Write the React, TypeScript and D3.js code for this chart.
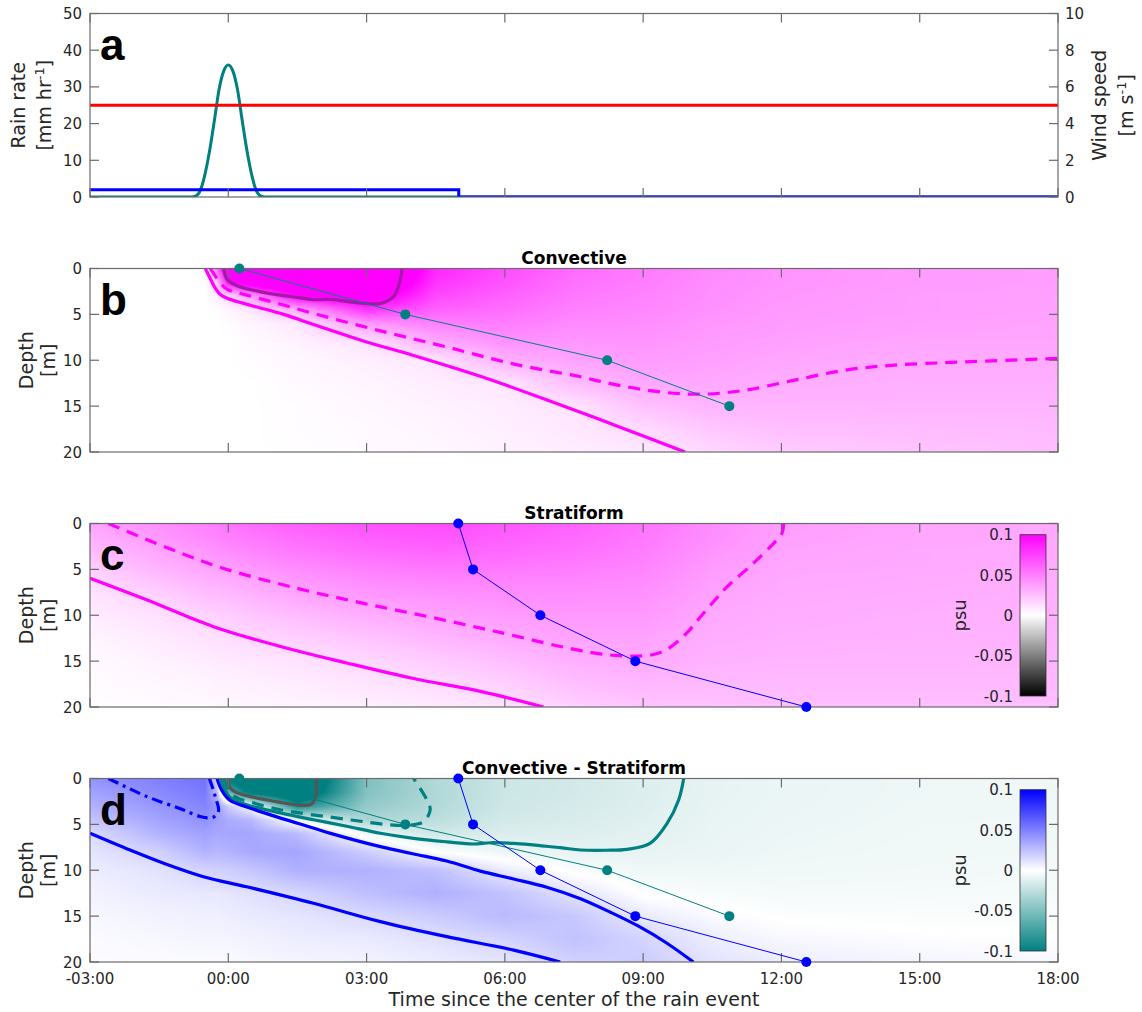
import React, { useMemo } from 'react';
import * as d3 from 'd3';

// ---------- layout ----------
const W = 1142;
const H = 1012;
const LEFT = 90;
const RIGHT = 1058;
const PANEL_TOPS = [13.5, 268.5, 523.5, 778.5];
const PANEL_H = 183.5;
const FONT = '"DejaVu Sans", sans-serif';
const AXIS = '#6b6b6b';
const TEXT = '#262626';
const TICK = 9;

// ---------- axes ----------
const timeDomain: [number, number] = [-3, 18];
const timeTicks = [-3, 0, 3, 6, 9, 12, 15, 18];
const timeTickLabels = ['-03:00', '00:00', '03:00', '06:00', '09:00', '12:00', '15:00', '18:00'];
const rainTicks = [0, 10, 20, 30, 40, 50];
const windTicks = [0, 2, 4, 6, 8, 10];
const depthTicks = [0, 5, 10, 15, 20];
const colorbarTicks = [0.1, 0.05, 0, -0.05, -0.1];
const colorbarTickLabels = ['0.1', '0.05', '0', '-0.05', '-0.1'];

// ---------- panel a: forcing ----------
const convRainTimes = [-3, -0.8, -0.7, -0.6, -0.5, -0.4, -0.3, -0.2, -0.1, 0, 0.1, 0.2, 0.3, 0.4, 0.5, 0.6, 0.7, 0.8, 18];
const convRain = [0, 0, 0.3, 2, 6.5, 13, 21, 29.3, 34.3, 36, 34.3, 29.3, 21, 13, 6.5, 2, 0.3, 0, 0];
const stratRainTimes = [-3, 5, 5, 18];
const stratRain = [2, 2, 0, 0];
const windTimes = [-3, 18];
const windSpeed = [5, 5];

// ---------- salinity anomaly grids (psu) ----------
const gridTimes = [-3, -1.5, -0.5, -0.25, 0, 0.5, 1.5, 3, 4.5, 6, 7.5, 9, 10.5, 12, 15, 18];
const gridDepths = [0, 1.5, 3, 4.5, 6, 8, 10, 12.5, 15, 17.5, 20];

// one profile (over gridDepths) per grid time
const convectiveProfiles = [
  [0, 0, 0, 0, 0, 0, 0, 0, 0, 0, 0],
  [0, 0, 0, 0, 0, 0, 0, 0, 0, 0, 0],
  [0, 0, 0, 0, 0, 0, 0, 0, 0, 0, 0],
  [0.055, 0.022, 0.006, 0.001, 0, 0, 0, 0, 0, 0, 0],
  [0.13, 0.095, 0.015, 0.004, 0.001, 0, 0, 0, 0, 0, 0],
  [0.15, 0.12, 0.04, 0.009, 0.004, 0.002, 0.001, 0, 0, 0, 0],
  [0.16, 0.14, 0.1, 0.033, 0.009, 0.005, 0.003, 0.002, 0.001, 0.001, 0.0005],
  [0.15, 0.14, 0.115, 0.08, 0.04, 0.011, 0.006, 0.004, 0.003, 0.002, 0.002],
  [0.085, 0.08, 0.072, 0.062, 0.05, 0.033, 0.01, 0.007, 0.005, 0.004, 0.003],
  [0.07, 0.067, 0.062, 0.057, 0.051, 0.043, 0.031, 0.0095, 0.007, 0.006, 0.005],
  [0.058, 0.056, 0.053, 0.05, 0.046, 0.041, 0.036, 0.026, 0.0105, 0.009, 0.007],
  [0.052, 0.051, 0.049, 0.047, 0.045, 0.042, 0.039, 0.034, 0.024, 0.014, 0.009],
  [0.046, 0.045, 0.044, 0.043, 0.041, 0.039, 0.037, 0.034, 0.029, 0.022, 0.015],
  [0.042, 0.042, 0.041, 0.04, 0.039, 0.037, 0.035, 0.032, 0.029, 0.025, 0.02],
  [0.039, 0.039, 0.038, 0.038, 0.037, 0.035, 0.033, 0.031, 0.029, 0.026, 0.023],
  [0.038, 0.038, 0.037, 0.037, 0.036, 0.035, 0.033, 0.031, 0.029, 0.027, 0.025],
];

const stratiformProfiles = [
  [0.036, 0.031, 0.026, 0.02, 0.015, 0.01, 0.007, 0.004, 0.002, 0.001, 0.0005],
  [0.044, 0.04, 0.035, 0.031, 0.025, 0.017, 0.012, 0.008, 0.005, 0.003, 0.0015],
  [0.05, 0.046, 0.041, 0.036, 0.031, 0.024, 0.017, 0.011, 0.007, 0.004, 0.002],
  [0.052, 0.048, 0.043, 0.038, 0.032, 0.025, 0.018, 0.012, 0.008, 0.005, 0.0025],
  [0.055, 0.05, 0.045, 0.039, 0.033, 0.026, 0.019, 0.013, 0.008, 0.005, 0.003],
  [0.058, 0.053, 0.048, 0.042, 0.036, 0.029, 0.022, 0.015, 0.009, 0.006, 0.003],
  [0.063, 0.058, 0.053, 0.047, 0.041, 0.034, 0.026, 0.018, 0.011, 0.007, 0.004],
  [0.068, 0.063, 0.058, 0.052, 0.046, 0.039, 0.032, 0.023, 0.015, 0.01, 0.006],
  [0.07, 0.066, 0.061, 0.055, 0.049, 0.042, 0.036, 0.028, 0.02, 0.013, 0.008],
  [0.066, 0.063, 0.059, 0.054, 0.049, 0.044, 0.039, 0.033, 0.025, 0.018, 0.011],
  [0.061, 0.059, 0.056, 0.052, 0.048, 0.044, 0.04, 0.036, 0.031, 0.025, 0.018],
  [0.055, 0.053, 0.051, 0.049, 0.046, 0.043, 0.04, 0.036, 0.033, 0.028, 0.023],
  [0.045, 0.044, 0.042, 0.04, 0.038, 0.036, 0.034, 0.032, 0.03, 0.027, 0.024],
  [0.038, 0.037, 0.036, 0.035, 0.034, 0.033, 0.032, 0.031, 0.029, 0.027, 0.025],
  [0.035, 0.035, 0.034, 0.034, 0.033, 0.032, 0.031, 0.03, 0.029, 0.027, 0.025],
  [0.034, 0.034, 0.033, 0.033, 0.032, 0.031, 0.031, 0.03, 0.029, 0.027, 0.025],
];

const differenceProfiles = [
  [0.042, 0.036, 0.03, 0.023, 0.014, 0.01, 0.007, 0.005, 0.003, 0.002, 0.001],
  [0.05, 0.046, 0.041, 0.036, 0.03, 0.018, 0.011, 0.008, 0.005, 0.003, 0.0015],
  [0.055, 0.052, 0.048, 0.043, 0.037, 0.03, 0.017, 0.009, 0.006, 0.004, 0.002],
  [0.014, 0.028, 0.04, 0.038, 0.034, 0.028, 0.018, 0.009, 0.006, 0.004, 0.002],
  [-0.11, -0.06, 0.02, 0.033, 0.035, 0.03, 0.019, 0.01, 0.007, 0.004, 0.002],
  [-0.13, -0.11, 0.0, 0.028, 0.035, 0.034, 0.022, 0.012, 0.008, 0.005, 0.003],
  [-0.14, -0.13, -0.09, -0.006, 0.027, 0.035, 0.031, 0.016, 0.01, 0.007, 0.004],
  [-0.05, -0.048, -0.042, -0.033, -0.006, 0.02, 0.031, 0.025, 0.0145, 0.008, 0.005],
  [-0.03, -0.031, -0.03, -0.026, -0.018, 0.0, 0.025, 0.031, 0.02, 0.012, 0.007],
  [-0.02, -0.02, -0.019, -0.017, -0.014, -0.007, 0.008, 0.024, 0.027, 0.017, 0.01],
  [-0.017, -0.017, -0.016, -0.015, -0.013, -0.0095, -0.002, 0.011, 0.022, 0.024, 0.018],
  [-0.0135, -0.0133, -0.013, -0.012, -0.011, -0.009, -0.006, -0.001, 0.008, 0.017, 0.02],
  [-0.0095, -0.0094, -0.009, -0.0088, -0.0085, -0.008, -0.006, -0.003, 0.002, 0.007, 0.011],
  [-0.008, -0.008, -0.0078, -0.0075, -0.007, -0.0065, -0.0055, -0.004, -0.0008, 0.003, 0.007],
  [-0.0065, -0.0065, -0.0063, -0.006, -0.0058, -0.0055, -0.005, -0.004, -0.002, 0.001, 0.004],
  [-0.006, -0.006, -0.006, -0.0058, -0.0055, -0.005, -0.0045, -0.0035, -0.002, 0.0003, 0.003],
];

// ---------- contours: [time (h), depth (m)] ----------
type Pt = [number, number];

const convContourLow: Pt[] = [[-0.5, 0], [-0.4, 1.0], [-0.3, 2.0], [-0.18, 2.8], [0, 3.3], [0.3, 3.75], [0.62, 4.2], [1.2, 5.0], [1.85, 6.1], [2.93, 7.9], [4.0, 9.45], [5.5, 11.8], [6.9, 14.3], [8.4, 17.1], [9.91, 20]];
const convContourMid: Pt[] = [[-0.39, 0], [-0.3, 0.7], [-0.21, 1.33], [-0.03, 2.24], [0.4, 2.9], [1.0, 3.7], [1.85, 4.9], [3.3, 6.8], [4.74, 8.55], [6.18, 10.4], [7.64, 11.8], [8.29, 12.55], [9.37, 13.45], [10.24, 13.7], [11.17, 13.3], [12.26, 12.2], [13.35, 11.1], [14.4, 10.55], [15.88, 10.2], [18, 9.8]];
const convContourHigh: Pt[] = [[-0.1, 0], [-0.03, 1.15], [0.19, 1.88], [0.77, 2.6], [1.56, 3.2], [1.85, 3.4], [2.2, 3.37], [2.93, 3.8], [3.3, 3.8], [3.58, 3.1], [3.73, 1.26], [3.77, 0]];

const stratContourLow: Pt[] = [[-3, 5.97], [-1.76, 8.34], [-0.32, 11.25], [1.13, 13.4], [2.57, 15.2], [4.02, 16.9], [5.47, 18.3], [6.84, 20]];
const stratContourMid: Pt[] = [[-2.6, 0], [-1.4, 2.5], [-0.1, 4.9], [1.49, 7.06], [2.93, 8.7], [4.38, 10.2], [5.83, 11.8], [7.2, 13.4], [7.92, 14.1], [8.4, 14.38], [8.87, 14.45], [9.2, 14.3], [9.47, 13.85], [9.73, 12.95], [10.0, 11.65], [10.24, 10.2], [10.53, 8.5], [10.82, 6.9], [11.4, 4.3], [11.83, 2.16], [12.01, 1.07], [12.05, 0]];

const diffPosLowUpper: Pt[] = [[-0.245, 0], [-0.14, 1.3], [0.04, 2.4], [0.4, 3.1], [1.0, 4.1], [1.56, 4.96], [2.2, 5.95], [3.3, 7.43], [4.0, 8.2], [4.74, 9.0], [5.47, 10.1], [6.19, 10.95], [6.91, 11.85], [7.64, 13.1], [8.3, 14.6], [8.9, 16.1], [9.5, 17.9], [10.09, 20]];
const diffPosLowLower: Pt[] = [[-3, 5.97], [-2.13, 7.8], [-1.4, 9.24], [-0.54, 10.7], [0.4, 11.8], [1.85, 13.6], [3.3, 15.6], [4.74, 17.24], [6.19, 18.7], [7.2, 20]];
const diffPosMid: Pt[] = [[-2.6, 0], [-1.76, 1.98], [-1.04, 3.3], [-0.61, 4.15], [-0.45, 4.3], [-0.3, 4.15], [-0.21, 3.5], [-0.27, 2.2], [-0.32, 1.33], [-0.41, 0]];
const diffNegLow: Pt[] = [[-0.17, 0], [-0.08, 1.2], [0.05, 2.1], [0.4, 2.85], [1.13, 3.75], [1.85, 4.5], [2.57, 5.2], [3.3, 5.97], [4.02, 6.52], [4.74, 6.9], [5.32, 7.14], [5.68, 7.0], [6.19, 7.07], [7.2, 7.54], [7.64, 7.79], [8.2, 7.82], [8.65, 7.72], [9.15, 7.07], [9.52, 4.88], [9.77, 2.34], [9.88, 0]];
const diffNegMid: Pt[] = [[-0.1, 0], [-0.02, 1.0], [0.15, 2.0], [0.5, 2.6], [1.13, 3.4], [2.57, 4.45], [3.51, 5.05], [3.84, 5.12], [4.06, 5.0], [4.24, 4.7], [4.38, 3.43], [4.31, 2.34], [4.02, 0]];
const diffNegHigh: Pt[] = [[0.0, 0], [0.03, 0.96], [0.15, 1.45], [0.4, 1.87], [1.13, 2.6], [1.56, 2.9], [1.78, 2.85], [1.88, 2.3], [1.92, 0.9], [1.91, 0]];

// ---------- profile markers ----------
const convMarkTimes = [0.24, 3.84, 8.22, 10.87];
const convMarkDepths = [0, 5, 10, 15];
const stratMarkTimes = [4.99, 5.31, 6.77, 8.83, 12.54];
const stratMarkDepths = [0, 5, 10, 15, 20];

// ---------- colours ----------
const TEAL = '#008080';
const BLUE = '#0000ff';
const RED = '#ff0000';
const MAGENTA = '#ff00ff';
const magentaMap = { pos: [255, 0, 255], neg: [0, 0, 0] };
const blueTealMap = { pos: [0, 0, 255], neg: [0, 128, 128] };
const DASH = '12,8';
const DASH_DOT = '11,5,3,5';
const LW = 3.2;

const x = d3.scaleLinear().domain(timeDomain).range([LEFT, RIGHT]);
const depthScale = (top: number) => d3.scaleLinear().domain([0, 20]).range([top, top + PANEL_H]);

function renderField(profiles: number[][], cmap: { pos: number[]; neg: number[] }, top: number): string {
  const w = RIGHT - LEFT;
  const h = Math.ceil(PANEL_H);
  const canvas = document.createElement('canvas');
  canvas.width = w;
  canvas.height = h;
  const ctx = canvas.getContext('2d');
  if (!ctx) return '';
  const img = ctx.createImageData(w, h);
  const y = depthScale(top);
  const locate = (grid: number[], v: number): [number, number] => {
    let k = d3.bisectRight(grid, v) - 1;
    k = Math.max(0, Math.min(grid.length - 2, k));
    const f = Math.max(0, Math.min(1, (v - grid[k]) / (grid[k + 1] - grid[k])));
    return [k, f];
  };
  const cols = d3.range(w).map((i) => locate(gridTimes, x.invert(LEFT + i + 0.5)));
  for (let j = 0; j < h; j++) {
    const [m, b] = locate(gridDepths, y.invert(top + j + 0.5));
    for (let i = 0; i < w; i++) {
      const [k, a] = cols[i];
      const v =
        (1 - a) * ((1 - b) * profiles[k][m] + b * profiles[k][m + 1]) +
        a * ((1 - b) * profiles[k + 1][m] + b * profiles[k + 1][m + 1]);
      const s = Math.max(-1, Math.min(1, v / 0.1));
      const c = s >= 0 ? cmap.pos : cmap.neg;
      const f = Math.abs(s);
      const p = (j * w + i) * 4;
      img.data[p] = 255 + (c[0] - 255) * f;
      img.data[p + 1] = 255 + (c[1] - 255) * f;
      img.data[p + 2] = 255 + (c[2] - 255) * f;
      img.data[p + 3] = 255;
    }
  }
  ctx.putImageData(img, 0, 0);
  return canvas.toDataURL();
}

function Frame({ top, leftTicks, rightTicks, leftScale, rightScale, bottomLabels }: any) {
  const bottom = top + PANEL_H;
  return (
    <g>
      <rect x={LEFT} y={top} width={RIGHT - LEFT} height={PANEL_H} fill="none" stroke={AXIS} strokeWidth={1.2} />
      {timeTicks.map((t) => (
        <g key={t}>
          <line x1={x(t)} x2={x(t)} y1={top} y2={top + TICK} stroke={AXIS} strokeWidth={1.2} />
          <line x1={x(t)} x2={x(t)} y1={bottom} y2={bottom - TICK} stroke={AXIS} strokeWidth={1.2} />
        </g>
      ))}
      {leftTicks.map((v: number) => (
        <g key={'l' + v}>
          <line x1={LEFT} x2={LEFT + TICK} y1={leftScale(v)} y2={leftScale(v)} stroke={AXIS} strokeWidth={1.2} />
          <text x={LEFT - 8} y={leftScale(v) + 5.5} textAnchor="end" fontSize={15} fill={TEXT}>{v}</text>
        </g>
      ))}
      {rightTicks.map((v: number) => (
        <line key={'r' + v} x1={RIGHT} x2={RIGHT - TICK} y1={rightScale(v)} y2={rightScale(v)} stroke={AXIS} strokeWidth={1.2} />
      ))}
      {bottomLabels &&
        timeTicks.map((t, i) => (
          <text key={'b' + t} x={x(t)} y={bottom + 21.5} textAnchor="middle" fontSize={15} fill={TEXT}>{timeTickLabels[i]}</text>
        ))}
    </g>
  );
}

function DepthLabel({ top }: { top: number }) {
  const cy = top + PANEL_H / 2;
  return (
    <g fontSize={19} fill={TEXT}>
      <text transform={`translate(33,${cy}) rotate(-90)`} textAnchor="middle">Depth</text>
      <text transform={`translate(55,${cy}) rotate(-90)`} textAnchor="middle">[m]</text>
    </g>
  );
}

function PanelLetter({ top, letter }: { top: number; letter: string }) {
  return (
    <text x={100} y={top + 46} fontSize={44} fontWeight="bold" fontFamily='"Liberation Sans", Arial, sans-serif' fill="#000">{letter}</text>
  );
}

function Title({ top, label }: { top: number; label: string }) {
  return (
    <text x={(LEFT + RIGHT) / 2} y={top - 5} textAnchor="middle" fontSize={17} fontWeight="bold" fill="#000">{label}</text>
  );
}

function Colorbar({ top, id, stops }: { top: number; id: string; stops: string[] }) {
  const cbTop = top + 11.2;
  const cbBottom = top + PANEL_H - 11;
  const cb = d3.scaleLinear().domain([0.1, -0.1]).range([cbTop, cbBottom]);
  return (
    <g>
      <defs>
        <linearGradient id={id} x1="0" y1="0" x2="0" y2="1">
          <stop offset="0%" stopColor={stops[0]} />
          <stop offset="50%" stopColor={stops[1]} />
          <stop offset="100%" stopColor={stops[2]} />
        </linearGradient>
      </defs>
      <rect x={1020} y={cbTop} width={26} height={cbBottom - cbTop} fill={`url(#${id})`} stroke="#333" strokeWidth={0.8} />
      {colorbarTicks.map((v, i) => (
        <text key={v} x={1013} y={cb(v) + 5.5} textAnchor="end" fontSize={15} fill={TEXT}>{colorbarTickLabels[i]}</text>
      ))}
      <text transform={`translate(966,${(cbTop + cbBottom) / 2}) rotate(-90)`} textAnchor="middle" fontSize={18} fill={TEXT}>psu</text>
    </g>
  );
}

function Markers({ y, times, depths, color }: any) {
  const pts: Pt[] = times.map((t: number, i: number) => [t, depths[i]]);
  const line = d3.line<Pt>().x((p) => x(p[0])).y((p) => y(p[1]));
  return (
    <g>
      <path d={line(pts) || ''} fill="none" stroke={color} strokeWidth={1} />
      {pts.map((p, i) => (
        <circle key={i} cx={x(p[0])} cy={y(p[1])} r={5} fill={color} />
      ))}
    </g>
  );
}

function Contour({ y, pts, color, width = LW, dash }: any) {
  const line = d3.line<Pt>().x((p) => x(p[0])).y((p) => y(p[1])).curve(d3.curveCatmullRom.alpha(0.5));
  return <path d={line(pts) || ''} fill="none" stroke={color} strokeWidth={width} strokeDasharray={dash} strokeLinejoin="round" />;
}

export default function App() {
  const images = useMemo(
    () => ({
      b: renderField(convectiveProfiles, magentaMap, PANEL_TOPS[1]),
      c: renderField(stratiformProfiles, magentaMap, PANEL_TOPS[2]),
      d: renderField(differenceProfiles, blueTealMap, PANEL_TOPS[3]),
    }),
    []
  );

  const [ta, tb, tc, td] = PANEL_TOPS;
  const rainY = d3.scaleLinear().domain([0, 50]).range([ta + PANEL_H, ta]);
  const windY = d3.scaleLinear().domain([0, 10]).range([ta + PANEL_H, ta]);
  const yb = depthScale(tb);
  const yc = depthScale(tc);
  const yd = depthScale(td);

  const rainLine = (ys: any) => d3.line<Pt>().x((p) => x(p[0])).y((p) => ys(p[1]));
  const convRainPts: Pt[] = convRainTimes.map((t, i) => [t, convRain[i]]);
  const stratRainPts: Pt[] = stratRainTimes.map((t, i) => [t, stratRain[i]]);
  const windPts: Pt[] = windTimes.map((t, i) => [t, windSpeed[i]]);

  const clip = (id: string, top: number) => (
    <clipPath id={id}>
      <rect x={LEFT} y={top} width={RIGHT - LEFT} height={PANEL_H} />
    </clipPath>
  );

  return (
    <svg width={W} height={H} style={{ position: 'absolute', left: 0, top: 0, background: '#fff' }} fontFamily={FONT}>
      <defs>
        {clip('clipA', ta)}
        {clip('clipB', tb)}
        {clip('clipC', tc)}
        {clip('clipD', td)}
      </defs>
      <rect width={W} height={H} fill="#fff" />

      {/* ---- a: rain rate and wind ---- */}
      <g clipPath="url(#clipA)">
        <path d={rainLine(rainY).curve(d3.curveMonotoneX)(convRainPts) || ''} fill="none" stroke={TEAL} strokeWidth={3} />
        <path d={rainLine(rainY)(stratRainPts) || ''} fill="none" stroke={BLUE} strokeWidth={3} />
        <path d={rainLine(windY)(windPts) || ''} fill="none" stroke={RED} strokeWidth={3} />
      </g>
      <Frame top={ta} leftTicks={rainTicks} leftScale={rainY} rightTicks={windTicks} rightScale={windY} />
      {windTicks.map((v) => (
        <text key={v} x={RIGHT + 7} y={windY(v) + 5.5} fontSize={15} fill={TEXT}>{v}</text>
      ))}
      <g fontSize={19} fill={TEXT}>
        <text transform={`translate(25,${ta + PANEL_H / 2}) rotate(-90)`} textAnchor="middle">Rain rate</text>
        <text transform={`translate(51,${ta + PANEL_H / 2}) rotate(-90)`} textAnchor="middle">
          [mm hr<tspan dy={-7} fontSize={13}>-1</tspan><tspan dy={7}>]</tspan>
        </text>
        <text transform={`translate(1106,${ta + PANEL_H / 2}) rotate(-90)`} textAnchor="middle">Wind speed</text>
        <text transform={`translate(1133,${ta + PANEL_H / 2}) rotate(-90)`} textAnchor="middle">
          [m s<tspan dy={-7} fontSize={13}>-1</tspan><tspan dy={7}>]</tspan>
        </text>
      </g>
      <PanelLetter top={ta} letter="a" />

      {/* ---- b: convective ---- */}
      <g clipPath="url(#clipB)">
        <image href={images.b} x={LEFT} y={tb} width={RIGHT - LEFT} height={Math.ceil(PANEL_H)} preserveAspectRatio="none" />
        <Contour y={yb} pts={convContourLow} color={MAGENTA} />
        <Contour y={yb} pts={convContourMid} color={MAGENTA} dash={DASH} />
        <Contour y={yb} pts={convContourHigh} color="#a41aa8" />
      </g>
      <Frame top={tb} leftTicks={depthTicks} leftScale={yb} rightTicks={depthTicks} rightScale={yb} />
      <Markers y={yb} times={convMarkTimes} depths={convMarkDepths} color={TEAL} />
      <Title top={tb} label="Convective" />
      <DepthLabel top={tb} />
      <PanelLetter top={tb} letter="b" />

      {/* ---- c: stratiform ---- */}
      <g clipPath="url(#clipC)">
        <image href={images.c} x={LEFT} y={tc} width={RIGHT - LEFT} height={Math.ceil(PANEL_H)} preserveAspectRatio="none" />
        <Contour y={yc} pts={stratContourLow} color={MAGENTA} />
        <Contour y={yc} pts={stratContourMid} color={MAGENTA} dash={DASH} />
      </g>
      <Frame top={tc} leftTicks={depthTicks} leftScale={yc} rightTicks={depthTicks} rightScale={yc} />
      <Markers y={yc} times={stratMarkTimes} depths={stratMarkDepths} color={BLUE} />
      <Colorbar top={tc} id="cbMagenta" stops={[MAGENTA, '#ffffff', '#000000']} />
      <Title top={tc} label="Stratiform" />
      <DepthLabel top={tc} />
      <PanelLetter top={tc} letter="c" />

      {/* ---- d: difference ---- */}
      <g clipPath="url(#clipD)">
        <image href={images.d} x={LEFT} y={td} width={RIGHT - LEFT} height={Math.ceil(PANEL_H)} preserveAspectRatio="none" />
        <Contour y={yd} pts={diffNegHigh} color="#555555" />
        <Contour y={yd} pts={diffNegMid} color={TEAL} dash={DASH} />
        <Contour y={yd} pts={diffNegLow} color={TEAL} />
        <Contour y={yd} pts={diffPosMid} color={BLUE} dash={DASH_DOT} />
        <Contour y={yd} pts={diffPosLowUpper} color={BLUE} />
        <Contour y={yd} pts={diffPosLowLower} color={BLUE} />
      </g>
      <Frame top={td} leftTicks={depthTicks} leftScale={yd} rightTicks={depthTicks} rightScale={yd} bottomLabels />
      <Markers y={yd} times={convMarkTimes} depths={convMarkDepths} color={TEAL} />
      <Markers y={yd} times={stratMarkTimes} depths={stratMarkDepths} color={BLUE} />
      <Colorbar top={td} id="cbBlueTeal" stops={[BLUE, '#ffffff', TEAL]} />
      <Title top={td} label="Convective - Stratiform" />
      <DepthLabel top={td} />
      <PanelLetter top={td} letter="d" />

      <text x={(LEFT + RIGHT) / 2} y={1006} textAnchor="middle" fontSize={19} fill={TEXT}>Time since the center of the rain event</text>
    </svg>
  );
}
